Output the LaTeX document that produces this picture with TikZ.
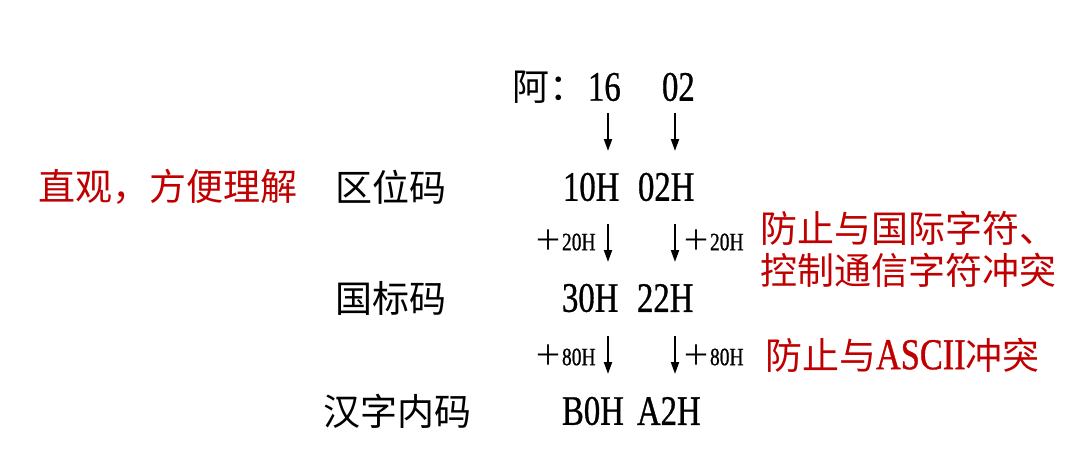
\documentclass[tikz,border=0pt]{standalone}
\usepackage{fontspec}
\setmainfont{Liberation Serif}
\newfontfamily\cjk{Noto Sans CJK SC}
\newfontfamily\narrow[FakeStretch=0.78,FakeBold=0.8]{Liberation Serif}
\usetikzlibrary{arrows.meta}
\definecolor{redzero}{RGB}{192,0,0}
\begin{document}
\begin{tikzpicture}[x=1pt,y=-1pt,
  every node/.style={inner sep=0pt, outer sep=0pt},
  big/.style={font=\cjk\fontsize{37}{40}\selectfont, anchor=west},
  num/.style={font=\narrow\fontsize{42}{44}\selectfont, anchor=west},
  small/.style={font=\narrow\fontsize{25}{27}\selectfont, anchor=west},
  note/.style={big, text=redzero},
  arr/.style={-{Triangle[length=12pt,width=8pt]}, line width=2pt}]
\useasboundingbox (0,0) rectangle (1076,466);
% row 1
\node[big] (a) at (512,87) {阿：};
\node[num] (s16) at (588,87) {16};
\node[num] (s02) at (662,87) {02};
% row 2
\node[note] (zg) at (38,187) {直观，方便理解};
\node[big] (qw) at (335,187) {区位码};
\node[num] (q1) at (563,187) {10H};
\node[num] (q2) at (638,187) {02H};
% row 3
\node[big] (gb) at (335,298) {国标码};
\node[num] (g1) at (562,298) {30H};
\node[num] (g2) at (637,298) {22H};
% row 4
\node[big] (nm) at (323,411) {汉字内码};
\node[num] (n1) at (562,411) {B0H};
\node[num] (n2) at (637,411) {A2H};
% small labels
\node[small] (p1) at (534,240) {{\cjk\fontsize{28}{30}\selectfont ＋}20H};
\node[small] (p2) at (682,240) {{\cjk\fontsize{28}{30}\selectfont ＋}20H};
\node[small] (p3) at (534,355) {{\cjk\fontsize{28}{30}\selectfont ＋}80H};
\node[small] (p4) at (682,355) {{\cjk\fontsize{28}{30}\selectfont ＋}80H};
% notes
\node[note] (r1) at (760,228) {防止与国际字符、};
\node[note] (r2) at (760,270) {控制通信字符冲突};
\node[note] (r3) at (765,355) {防止与{\narrow\fontsize{44}{46}\selectfont ASCII}冲突};
% arrows
\coordinate (a1s) at (608,113); \coordinate (a1e) at (608,151);
\coordinate (a2s) at (675,113); \coordinate (a2e) at (675,151);
\coordinate (b1s) at (608,224); \coordinate (b1e) at (608,262);
\coordinate (b2s) at (675,224); \coordinate (b2e) at (675,262);
\coordinate (c1s) at (608,336); \coordinate (c1e) at (608,374);
\coordinate (c2s) at (675,336); \coordinate (c2e) at (675,374);
\draw[arr] (a1s) -- (a1e);
\draw[arr] (a2s) -- (a2e);
\draw[arr] (b1s) -- (b1e);
\draw[arr] (b2s) -- (b2e);
\draw[arr] (c1s) -- (c1e);
\draw[arr] (c2s) -- (c2e);
\end{tikzpicture}
\end{document}
